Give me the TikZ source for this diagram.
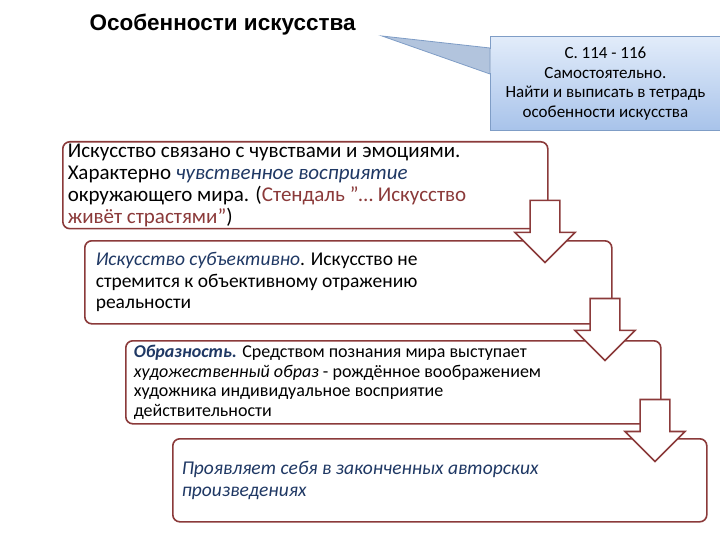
\documentclass[tikz,border=0pt]{standalone}
\usepackage{fontspec}
\setmainfont{Carlito}
\newfontfamily\titlefont{Liberation Sans}
\usetikzlibrary{shapes.arrows}
\definecolor{bord}{HTML}{8B3A3A}
\definecolor{dblue}{HTML}{1F3864}
\definecolor{dred}{HTML}{8B3A3A}
\definecolor{cbord}{HTML}{7F9DC6}
\definecolor{ctop}{HTML}{E2ECFA}
\definecolor{cbot}{HTML}{A8C3EA}
\begin{document}
\begin{tikzpicture}[x=1pt,y=-1pt,
  stepbox/.style={draw=bord,line width=1.6pt,rounded corners=7pt,fill=white,anchor=north west,
    align=flush left,inner xsep=4pt,inner ysep=2pt},
  downarrow/.style={single arrow,draw=bord,line width=1.6pt,fill=white,shape border rotate=270,
    single arrow head extend=15pt,minimum width=60pt,single arrow head indent=0pt,inner sep=0pt,
    minimum height=62pt,text width=28pt}]
\useasboundingbox (0,0) rectangle (720,540);
\node[anchor=west,font=\titlefont\bfseries\fontsize{22.5}{26}\selectfont] (title) at (86,25) {Особенности искусства};
% callout
\coordinate (tail) at (382,36);
\fill[cbord!60!white,draw=cbord,line width=0.8pt] (490,48) -- (tail) -- (490,74) -- cycle;
\node[anchor=north west,minimum width=230pt,minimum height=94pt,top color=ctop,bottom color=cbot,
  draw=cbord,line width=0.8pt,align=center,inner sep=0pt,font=\fontsize{17}{19.5}\selectfont] (call) at (490,36)
  {С. 114 - 116\\Самостоятельно.\\Найти и выписать в тетрадь\\особенности искусства};
\draw[cbord!60!white,line width=1.2pt] (490.5,49) -- (490.5,73);
% boxes
\node[stepbox,minimum width=485pt,minimum height=85pt,text width=475pt,font=\fontsize{21}{22}\selectfont] (b1) at (62,141)
 {Искусство связано с чувствами и эмоциями.\\
  Характерно \textcolor{dblue}{\itshape чувственное восприятие}\\
  окружающего мира. (\textcolor{dred}{Стендаль "… Искусство}\\
  \textcolor{dred}{живёт страстями"})};
\node[stepbox,minimum width=527pt,minimum height=83pt,text width=505pt,inner xsep=10pt,font=\fontsize{19.5}{21.5}\selectfont] (b2) at (84,240)
 {\textcolor{dblue}{\itshape Искусство субъективно}. Искусство не\\
  стремится к объективному отражению\\реальности};
\node[stepbox,minimum width=535pt,minimum height=83pt,text width=519pt,inner xsep=8pt,font=\fontsize{18}{19.5}\selectfont] (b3) at (125,340)
 {\textcolor{dblue}{\bfseries\itshape Образность.} Средством познания мира выступает\\
  {\itshape художественный образ} - рождённое воображением\\
  художника индивидуальное восприятие\\действительности};
\node[stepbox,minimum width=534pt,minimum height=83pt,text width=516pt,inner xsep=9pt,font=\fontsize{19.5}{22}\selectfont] (b4) at (172,438)
 {\textcolor{dblue}{\itshape Проявляет себя в законченных авторских}\\
  \textcolor{dblue}{\itshape произведениях}};
% arrows
\node[downarrow] (a1) at (545,224) {};
\node[downarrow] (a2) at (605,322) {};
\node[downarrow] (a3) at (655,423) {};
\end{tikzpicture}
\end{document}
